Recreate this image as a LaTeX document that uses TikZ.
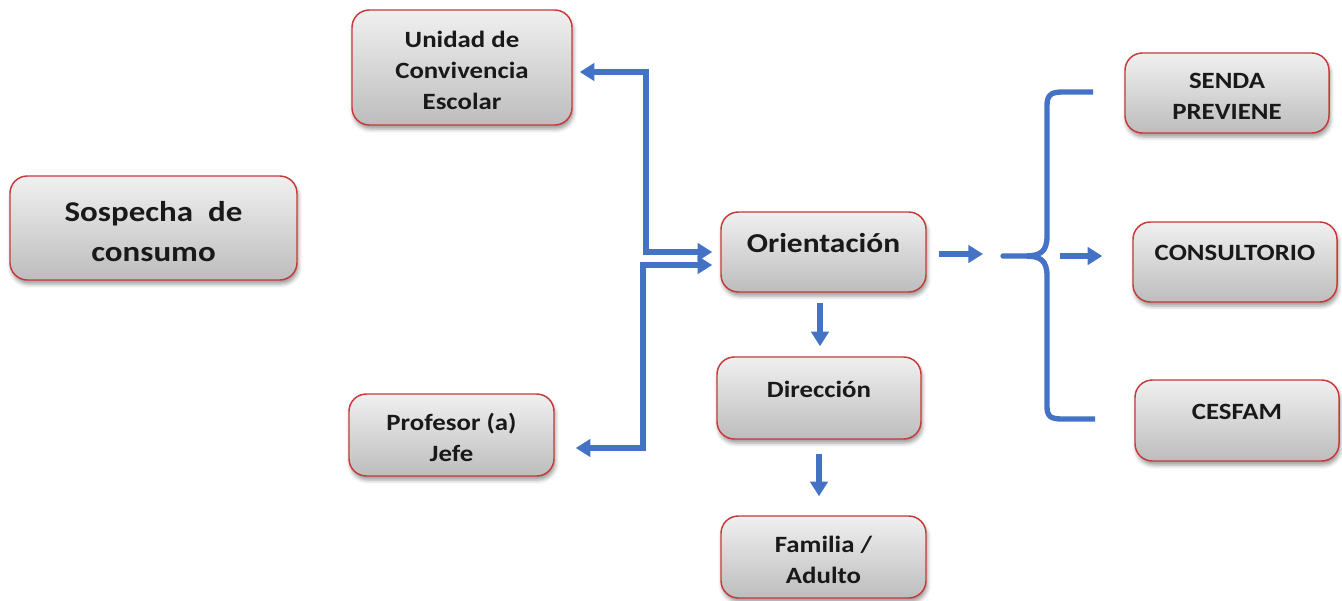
\documentclass[tikz,border=0pt]{standalone}
\usepackage{fontspec}
\setmainfont{Carlito}[FakeStretch=1.15]
\usetikzlibrary{arrows.meta,shadows.blur,calc}
\definecolor{boxred}{HTML}{C8393A}
\definecolor{arrblue}{HTML}{4472C4}
\definecolor{gtop}{HTML}{F0F0F0}
\definecolor{gbot}{HTML}{BDBDBD}
\newcommand{\tp}{\rule{0pt}{16.5pt}}
\newcommand{\tpb}{\rule{0pt}{20pt}}
\tikzset{
  box/.style={draw=boxred, line width=1.1pt, rounded corners=13pt,
    top color=gtop, bottom color=gbot, align=center, inner sep=0pt,
    font=\bfseries\fontsize{17.5}{23.5}\selectfont, text=black!90,
    blur shadow={shadow xshift=1pt, shadow yshift=-3pt, shadow blur radius=3pt, shadow opacity=40}},
  bigbox/.style={box, font=\bfseries\fontsize{21.5}{30}\selectfont},
  txt/.style={font=\bfseries\fontsize{17.5}{23.5}\selectfont, text=black!90, inner sep=0pt},
  bigtxt/.style={font=\bfseries\fontsize{20.5}{30}\selectfont, text=black!90, inner sep=0pt},
  conn/.style={draw=arrblue, line width=4pt},
  arr/.style={conn, -{Triangle[length=11pt,width=13pt]}},
  darr/.style={conn, {Triangle[length=11pt,width=13pt]}-{Triangle[length=11pt,width=13pt]}},
}
\begin{document}
\begin{tikzpicture}[x=0.75pt,y=-0.75pt]
\useasboundingbox (0,0) rectangle (1342,600);
% boxes
\node[box, minimum width=165pt, minimum height=86.25pt] (u) at (462,67.5) {\tp Unidad de\\Convivencia\\Escolar};
\node[bigbox, minimum width=215.25pt, minimum height=78pt] (s) at (153.5,228) {\tpb Sospecha\ \ de\\consumo};
\node[box, minimum width=153.75pt, minimum height=61.5pt] (p) at (451.5,435) {\tp Profesor (a)\\Jefe};
\node[box, minimum width=153.75pt, minimum height=60pt,
  label={[bigtxt, yshift=6.75pt]center:Orientación}] (o) at (823.5,252) {};
\node[box, minimum width=153pt, minimum height=61.5pt,
  label={[txt, yshift=6.75pt]center:Dirección}] (d) at (819,398) {};
\node[box, minimum width=153.75pt, minimum height=61.5pt] (f) at (823.5,557) {\tp Familia /\\Adulto};
\node[box, minimum width=153pt, minimum height=60pt] (se) at (1227,93) {\tp SENDA\\PREVIENE};
\node[box, minimum width=153pt, minimum height=60pt,
  label={[txt, yshift=6.75pt]center:CONSULTORIO}] (c) at (1235,262) {};
\node[box, minimum width=153pt, minimum height=60.75pt,
  label={[txt, yshift=6.75pt]center:CESFAM}] (ce) at (1237,420.5) {};
% connectors
\draw[darr] ([shift={(7,4.5)}]u.east) -- (646,72) -- (646,252) -- ([shift={(-8,0)}]o.west);
\draw[darr] ([shift={(-8,13)}]o.west) -- (643,265) -- (643,448) -- ([shift={(21,13)}]p.east);
\draw[arr] ([shift={(-3.5,10)}]o.south) -- ([shift={(1,-10)}]d.north);
\draw[arr] ([shift={(0,14)}]d.south) -- ([shift={(-4.5,-19)}]f.north);
\coordinate (bt) at (1003,256);
\draw[arr] ([shift={(12,2)}]o.east) -- ([shift={(-20,-2)}]bt);
\draw[conn, line join=round] ([shift={(90,-164)}]bt) -- (1062,92) .. controls (1050,92) and (1047,96) .. (1047,106)
  -- (1047,236) .. controls (1047,252) and (1040,256) .. (1025,256) -- (bt)
  -- (1025,256) .. controls (1040,256) and (1047,260) .. (1047,276)
  -- (1047,406) .. controls (1047,416) and (1050,419) .. (1062,419) -- ([shift={(92,163)}]bt);
\draw[arr] ([shift={(57,0)}]bt) -- ([shift={(-30,-6)}]c.west);
\end{tikzpicture}
\end{document}
